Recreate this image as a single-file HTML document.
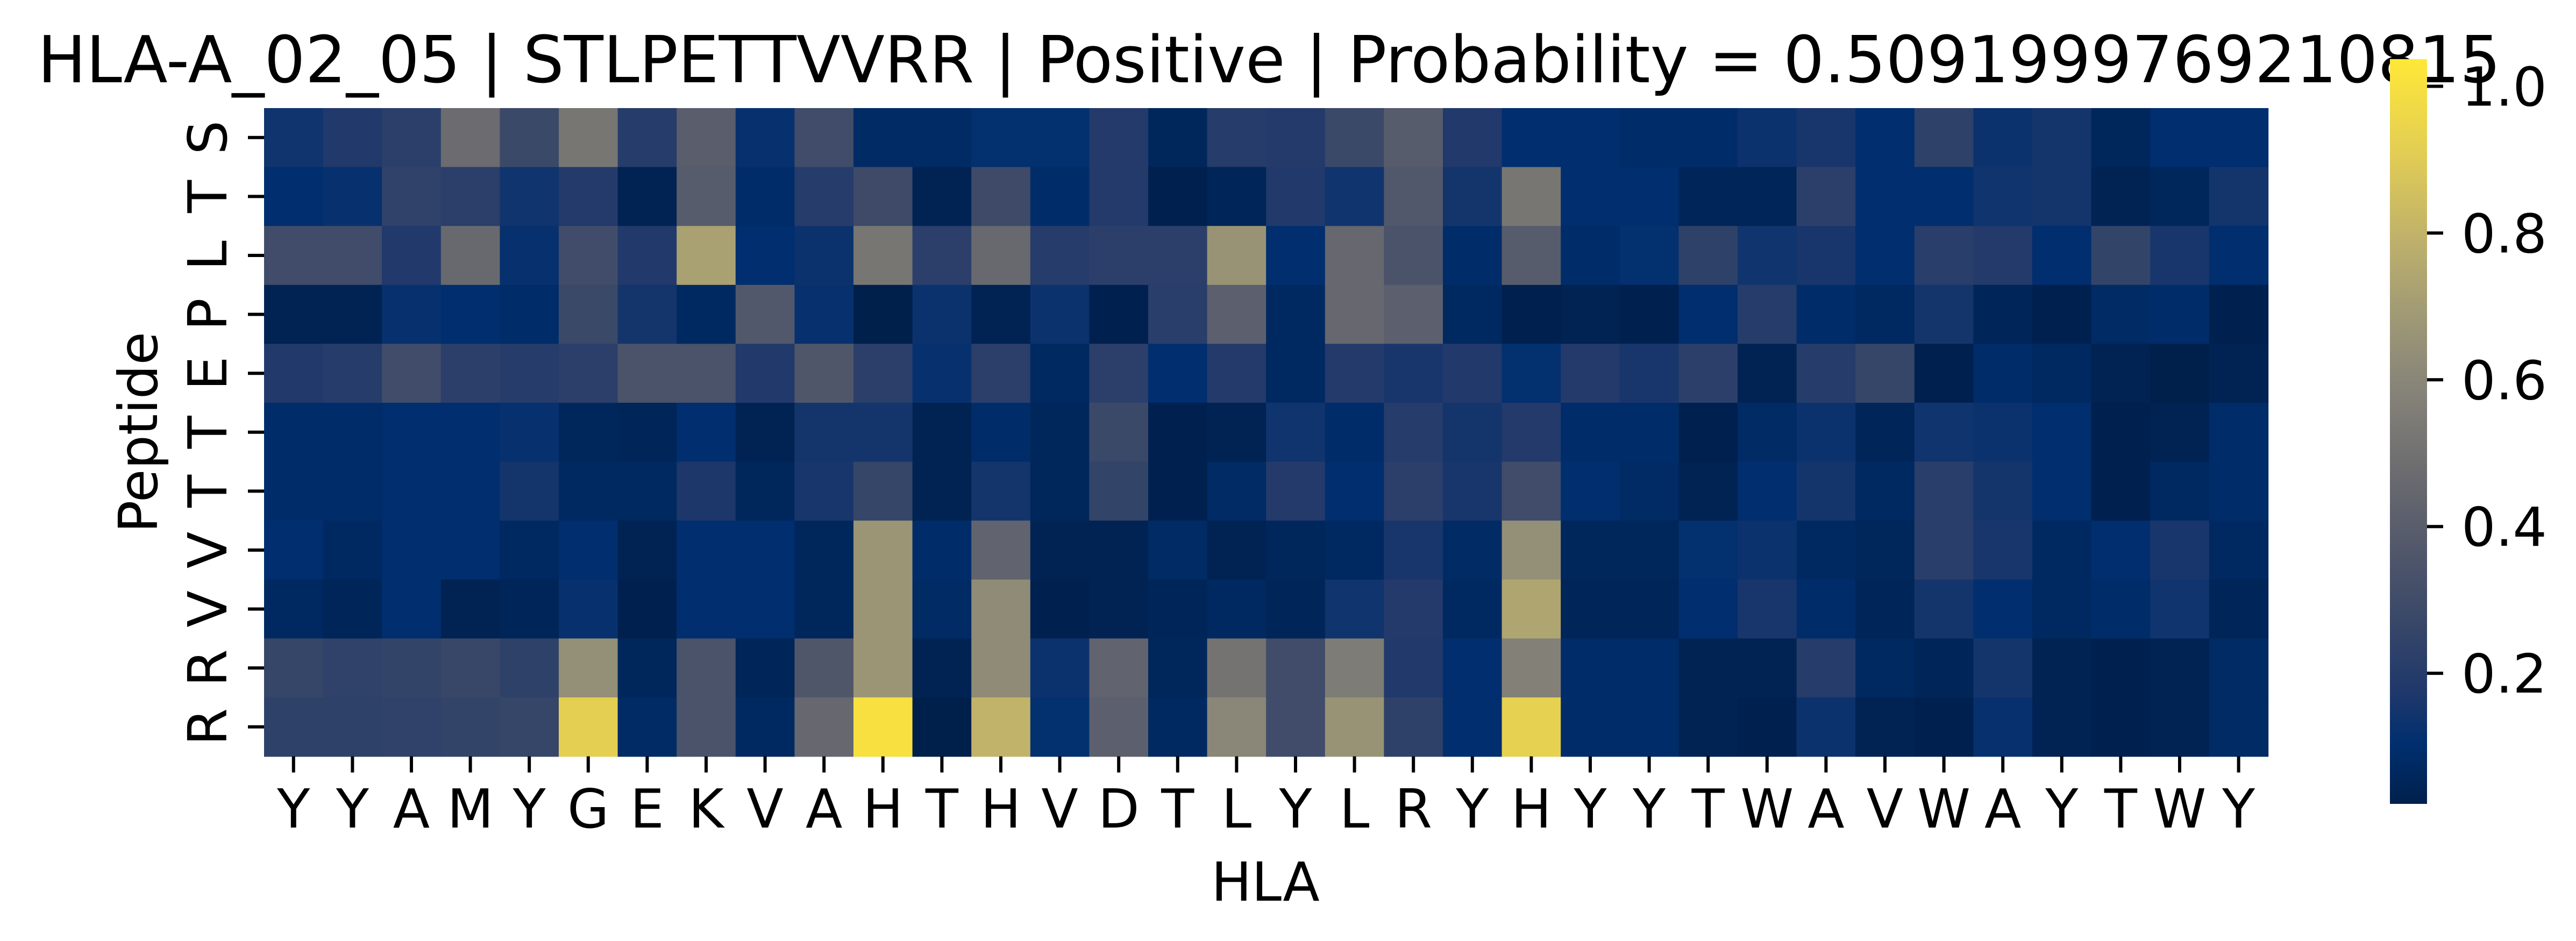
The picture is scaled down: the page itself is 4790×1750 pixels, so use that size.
<!DOCTYPE html>
<html><head><meta charset="utf-8">
<style>
html,body{margin:0;padding:0;background:#fff;}
svg{display:block;font-family:"DejaVu Sans","Liberation Sans",sans-serif;}
</style></head>
<body>
<svg id="chart" width="4790" height="1750" viewBox="0 0 4790 1750" xmlns="http://www.w3.org/2000/svg">
  <defs>
    <linearGradient id="cbgrad" x1="0" y1="1" x2="0" y2="0">
      <stop offset="0" stop-color="#00204c"/>
      <stop offset="0.08" stop-color="#002f6f"/>
      <stop offset="0.15" stop-color="#1f386b"/>
      <stop offset="0.25" stop-color="#3a4868"/>
      <stop offset="0.35" stop-color="#54596b"/>
      <stop offset="0.45" stop-color="#6d6d70"/>
      <stop offset="0.55" stop-color="#858278"/>
      <stop offset="0.65" stop-color="#9e9876"/>
      <stop offset="0.75" stop-color="#bcaf6c"/>
      <stop offset="0.87" stop-color="#e1cc55"/>
      <stop offset="1" stop-color="#ffe838"/>
    </linearGradient>
  </defs>
  <text x="70" y="153" font-size="120" textLength="4580" lengthAdjust="spacingAndGlyphs">HLA-A_02_05 | STLPETTVVRR | Positive | Probability = 0.5091999769210815</text>
  <g id="cells"></g>
  <g id="xticks"></g>
  <g id="yticks"></g>
  <text x="2353" y="1675" font-size="100" text-anchor="middle">HLA</text>
  <text transform="translate(292,804) rotate(-90)" font-size="100" text-anchor="middle">Peptide</text>
  <rect x="4444" y="110" width="69" height="1385" fill="url(#cbgrad)"/>
  <g id="cbticks"></g>
</svg>
<script>
const hlaLabels = ["Y","Y","A","M","Y","G","E","K","V","A","H","T","H","V","D","T","L","Y","L","R","Y","H","Y","Y","T","W","A","V","W","A","Y","T","W","Y"];
const peptideLabels = ["S","T","L","P","E","T","T","V","V","R","R"];
const row0 = [0.14,0.18,0.22,0.47,0.28,0.52,0.2,0.4,0.12,0.3,0.08,0.08,0.11,0.11,0.19,0.06,0.2, 0.19,0.28,0.39,0.18,0.1,0.1,0.09,0.09,0.13,0.16,0.1,0.23,0.13,0.15,0.06,0.1,0.1];
const row1 = [0.1,0.12,0.24,0.22,0.14,0.19,0.04,0.39,0.09,0.2,0.29,0.04,0.29,0.09,0.19,0.03,0.05, 0.18,0.14,0.37,0.15,0.52,0.1,0.1,0.05,0.05,0.22,0.1,0.1,0.14,0.15,0.04,0.06,0.15];
const row2 = [0.3,0.3,0.18,0.46,0.12,0.3,0.18,0.72,0.1,0.13,0.52,0.22,0.46,0.2,0.22,0.22,0.66, 0.1,0.45,0.34,0.09,0.39,0.09,0.11,0.23,0.14,0.16,0.1,0.21,0.19,0.1,0.25,0.16,0.1];
const row3 = [0.04,0.04,0.12,0.1,0.09,0.28,0.15,0.07,0.37,0.12,0.02,0.13,0.04,0.13,0.03,0.21,0.41, 0.07,0.45,0.41,0.07,0.03,0.04,0.03,0.1,0.2,0.09,0.07,0.15,0.05,0.03,0.08,0.09,0.03];
const row4 = [0.18,0.2,0.3,0.22,0.2,0.22,0.34,0.34,0.18,0.36,0.22,0.12,0.22,0.07,0.22,0.1,0.19, 0.07,0.19,0.16,0.18,0.11,0.19,0.16,0.22,0.04,0.2,0.26,0.03,0.09,0.07,0.04,0.02,0.04];
const row5 = [0.09,0.09,0.1,0.1,0.12,0.06,0.05,0.1,0.04,0.15,0.15,0.04,0.09,0.06,0.28,0.03,0.04, 0.14,0.09,0.2,0.15,0.19,0.09,0.09,0.03,0.08,0.13,0.05,0.14,0.13,0.1,0.03,0.04,0.09];
const row6 = [0.09,0.09,0.1,0.1,0.15,0.07,0.07,0.17,0.06,0.16,0.26,0.04,0.15,0.06,0.25,0.03,0.08, 0.19,0.1,0.22,0.16,0.3,0.1,0.08,0.04,0.1,0.15,0.07,0.21,0.15,0.1,0.03,0.07,0.09];
const row7 = [0.1,0.07,0.1,0.1,0.07,0.1,0.04,0.1,0.1,0.06,0.67,0.09,0.43,0.04,0.04,0.08,0.04, 0.06,0.07,0.16,0.08,0.64,0.06,0.06,0.11,0.13,0.07,0.06,0.21,0.16,0.07,0.1,0.16,0.07];
const row8 = [0.07,0.05,0.1,0.04,0.05,0.12,0.03,0.1,0.1,0.06,0.67,0.08,0.62,0.03,0.04,0.05,0.07, 0.05,0.14,0.19,0.07,0.74,0.05,0.05,0.1,0.16,0.09,0.05,0.15,0.1,0.07,0.09,0.14,0.05];
const row9 = [0.26,0.24,0.25,0.27,0.23,0.64,0.06,0.34,0.05,0.36,0.67,0.04,0.62,0.13,0.43,0.06,0.51, 0.3,0.55,0.18,0.1,0.57,0.09,0.09,0.04,0.04,0.2,0.07,0.05,0.15,0.04,0.03,0.04,0.08];
const row10 = [0.23,0.23,0.24,0.25,0.26,0.92,0.08,0.34,0.07,0.45,1.0,0.02,0.8,0.11,0.41,0.07,0.6, 0.3,0.66,0.23,0.1,0.93,0.09,0.09,0.04,0.03,0.13,0.04,0.03,0.12,0.04,0.03,0.04,0.08];
const matrix = [row0,row1,row2,row3,row4,row5,row6,row7,row8,row9,row10];
const cbTickValues = [0.2,0.4,0.6,0.8,1.0];
const cbTickLabels = ["0.2","0.4","0.6","0.8","1.0"];

const NS = "http://www.w3.org/2000/svg";
const VMIN = 0.022, VMAX = 1.037;
const X0 = 491, Y0 = 201, CW = 109.6, CH = 109.6;
const CB_TOP = 110, CB_BOT = 1495;
const stops = [[0,[0,32,76]],[0.08,[0,47,111]],[0.15,[31,56,107]],[0.25,[58,72,104]],[0.35,[84,89,107]],[0.45,[109,109,112]],[0.55,[133,130,120]],[0.65,[158,152,118]],[0.75,[188,175,108]],[0.87,[225,204,85]],[1,[255,232,56]]];
function colorOf(v){
  let t = (v - VMIN) / (VMAX - VMIN);
  t = Math.max(0, Math.min(1, t));
  for (let i = 1; i < stops.length; i++) {
    if (t <= stops[i][0]) {
      const a = stops[i-1], b = stops[i];
      const f = (t - a[0]) / (b[0] - a[0]);
      const c = a[1].map((x, k) => Math.round(x + (b[1][k] - x) * f));
      return "rgb(" + c.join(",") + ")";
    }
  }
  return "rgb(255,232,56)";
}
function xPos(i){ return X0 + i * CW; }
function yPos(j){ return Y0 + j * CH; }
function cbY(v){ return CB_BOT - (v - VMIN) / (VMAX - VMIN) * (CB_BOT - CB_TOP); }

const cells = document.getElementById("cells");
matrix.forEach((row, j) => {
  row.forEach((v, i) => {
    const r = document.createElementNS(NS, "rect");
    r.setAttribute("x", xPos(i));
    r.setAttribute("y", yPos(j));
    r.setAttribute("width", CW + 0.8);
    r.setAttribute("height", CH + 0.8);
    r.setAttribute("fill", colorOf(v));
    
    
    cells.appendChild(r);
  });
});

const xt = document.getElementById("xticks");
hlaLabels.forEach((lab, i) => {
  const cx = xPos(i) + CW / 2;
  const tk = document.createElementNS(NS, "line");
  tk.setAttribute("x1", cx); tk.setAttribute("x2", cx);
  tk.setAttribute("y1", Y0 + 11 * CH); tk.setAttribute("y2", Y0 + 11 * CH + 30);
  tk.setAttribute("stroke", "#000"); tk.setAttribute("stroke-width", "6");
  
  
  xt.appendChild(tk);
  const t = document.createElementNS(NS, "text");
  t.setAttribute("x", cx); t.setAttribute("y", 1539);
  t.setAttribute("font-size", "100"); t.setAttribute("text-anchor", "middle");
  t.textContent = lab;
  
  
  xt.appendChild(t);
});

const yt = document.getElementById("yticks");
peptideLabels.forEach((lab, j) => {
  const cy = yPos(j) + CH / 2;
  const tk = document.createElementNS(NS, "line");
  tk.setAttribute("x1", X0 - 30); tk.setAttribute("x2", X0);
  tk.setAttribute("y1", cy); tk.setAttribute("y2", cy);
  tk.setAttribute("stroke", "#000"); tk.setAttribute("stroke-width", "6");
  
  
  yt.appendChild(tk);
  const t = document.createElementNS(NS, "text");
  t.setAttribute("transform", "translate(421," + cy + ") rotate(-90)");
  t.setAttribute("font-size", "100"); t.setAttribute("text-anchor", "middle");
  t.textContent = lab;
  
  
  yt.appendChild(t);
});

const cbt = document.getElementById("cbticks");
cbTickValues.forEach((v, k) => {
  const y = cbY(v);
  const tk = document.createElementNS(NS, "line");
  tk.setAttribute("x1", 4513); tk.setAttribute("x2", 4543);
  tk.setAttribute("y1", y); tk.setAttribute("y2", y);
  tk.setAttribute("stroke", "#000"); tk.setAttribute("stroke-width", "6");
  
  
  cbt.appendChild(tk);
  const t = document.createElementNS(NS, "text");
  t.setAttribute("x", 4577); t.setAttribute("y", y + 36);
  t.setAttribute("font-size", "100");
  t.textContent = cbTickLabels[k];
  
  
  cbt.appendChild(t);
});
</script>
</body></html>
